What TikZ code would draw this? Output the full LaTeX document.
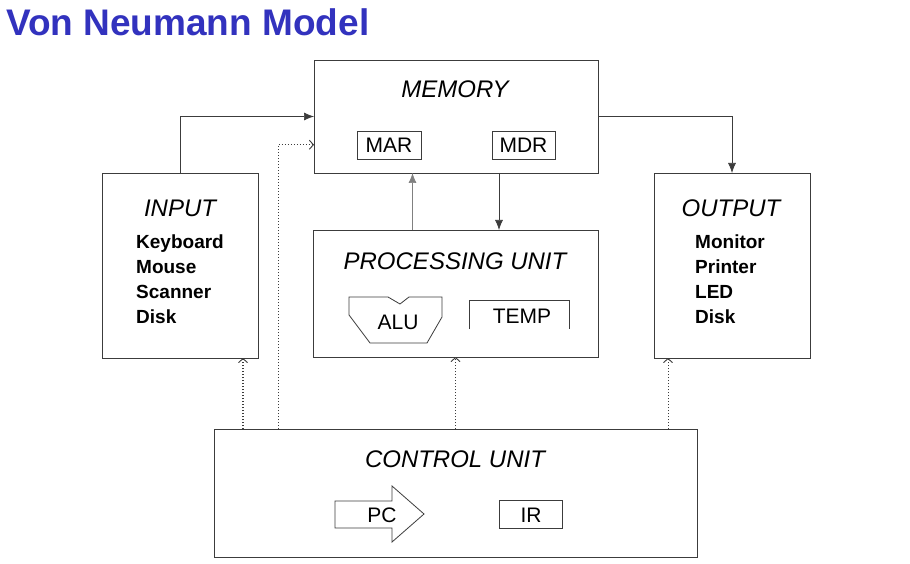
\documentclass[tikz,border=0pt]{standalone}
\usepackage{fontspec}
\setmainfont{Liberation Sans}
\usetikzlibrary{arrows.meta,calc}
\definecolor{titleblue}{RGB}{50,50,190}
\definecolor{boxline}{RGB}{60,60,60}
\tikzset{
  box/.style={draw=boxline,line width=0.8pt,inner sep=0pt,outer sep=0pt},
  hdr/.style={font=\itshape\fontsize{24}{28}\selectfont,anchor=base,inner sep=0pt},
  reg/.style={font=\fontsize{21}{24}\selectfont,anchor=base,inner sep=0pt},
  item/.style={font=\bfseries\fontsize{19}{23}\selectfont,anchor=base west,inner sep=0pt},
  conn/.style={draw=boxline,line width=0.7pt,-{Latex[length=10pt,width=8pt]}},
  ctrl/.style={draw=boxline,line width=1pt,dotted,-{Straight Barb[length=4pt,width=9pt,line width=0.9pt]}},
}
\begin{document}
\begin{tikzpicture}[x=1pt,y=-1pt]
\useasboundingbox[fill=white] (0,0) rectangle (910,564);

% title
\node[font=\bfseries\fontsize{37}{40}\selectfont,text=titleblue,anchor=base west,inner sep=0pt] (title) at (6,36) {Von Neumann Model};

% main boxes
\node[box,minimum width=284pt,minimum height=113pt] (mem) at (456,116.5) {};
\node[box,minimum width=285pt,minimum height=127pt] (proc) at (455.5,293.5) {};
\node[box,minimum width=156pt,minimum height=185pt] (inp) at (180,265.5) {};
\node[box,minimum width=156pt,minimum height=185pt] (out) at (732,265.5) {};
\node[box,minimum width=483pt,minimum height=128pt] (ctl) at (455.5,493) {};

% headers
\node[hdr] (memt) at (455,98) {MEMORY};
\node[hdr] (proct) at (455,269) {PROCESSING UNIT};
\node[hdr] (inpt) at (180,216) {INPUT};
\node[hdr] (outt) at (731,216) {OUTPUT};
\node[hdr] (ctlt) at (455,467) {CONTROL UNIT};

% memory registers
\node[box,minimum width=64pt,minimum height=28pt] (mar) at (389,145) {};
\node[reg] (mart) at (389,153) {MAR};
\node[box,minimum width=63pt,minimum height=28pt] (mdr) at (523.5,145) {};
\node[reg] (mdrt) at (523.5,153) {MDR};

% ALU
\draw[boxline,line width=0.8pt] (349,297) -- (388,297) -- (400,304) -- (409,297) -- (442,297)
  -- (442,317) -- (427,343) -- (370,343) -- (349,315) -- cycle;
\node[reg] (alut) at (398,329) {ALU};

% TEMP (open bottom)
\node[minimum width=99pt,minimum height=28pt,inner sep=0pt] (temp) at (519.5,315) {};
\draw[boxline,line width=0.8pt] (temp.south west) -- (temp.north west) -- (temp.north east) -- (temp.south east);
\node[reg] (tempt) at (522,323) {TEMP};

% PC arrow
\draw[boxline,line width=0.8pt] (335,501) -- (392,501) -- (392,486) -- (424,514) -- (392,542) -- (392,528) -- (335,528) -- cycle;
\node[reg] (pct) at (382,522) {PC};

% IR
\node[box,minimum width=63pt,minimum height=28pt] (ir) at (530.5,514) {};
\node[reg] (irt) at (531,522) {IR};

% lists
\node[item] (i1) at (136,248) {Keyboard};
\node[item] (i2) at (136,273) {Mouse};
\node[item] (i3) at (136,298) {Scanner};
\node[item] (i4) at (136,323) {Disk};
\node[item] (o1) at (695,248) {Monitor};
\node[item] (o2) at (695,273) {Printer};
\node[item] (o3) at (695,298) {LED};
\node[item] (o4) at (695,323) {Disk};

% data connectors
\draw[conn] (inp.north) |- (mem.west);
\draw[conn] (mem.east) -| (out.north);
\draw[conn,draw=gray] ([xshift=-43pt]proc.north) -- ([xshift=-43pt]proc.north |- mem.south);
\draw[conn] ([xshift=43pt]mem.south) -- ([xshift=43pt]mem.south |- proc.north);

% control connectors
\coordinate (memin) at ($(mem.south west)!0.25!(mem.north west)$);
\draw[ctrl] ([xshift=64pt]ctl.north west) |- (memin);
\draw[ctrl,line width=1.3pt] ([xshift=29pt]ctl.north west) -- ([xshift=29pt]ctl.north west |- inp.south);
\draw[ctrl] (ctl.north) -- (ctl.north |- proc.south);
\draw[ctrl] ([xshift=-29pt]ctl.north east) -- ([xshift=-29pt]ctl.north east |- out.south);
\end{tikzpicture}
\end{document}
